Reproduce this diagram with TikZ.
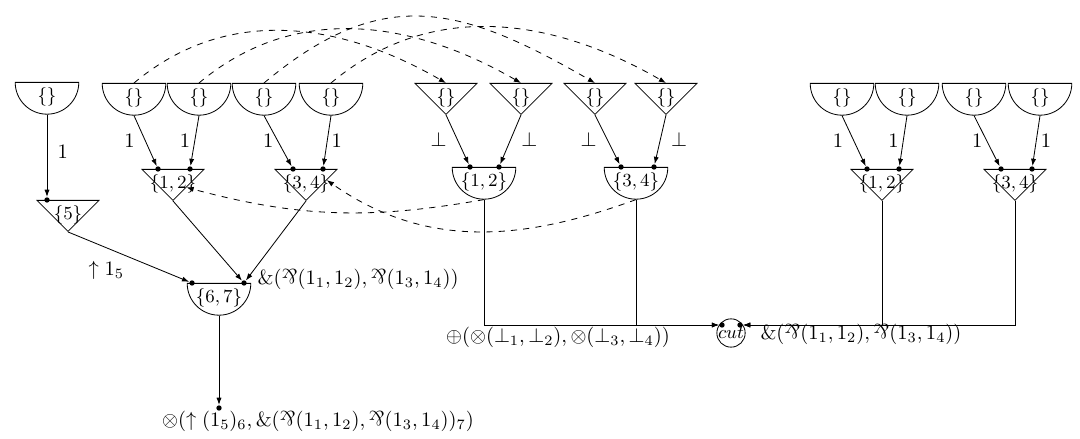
\documentclass[tikz,border=0pt]{standalone}
\usepackage{amsmath}
\usepackage{graphicx}
\usepackage{tikz}
\usetikzlibrary{shapes.geometric,arrows.meta,positioning,calc}
\newcommand{\tpar}{\mathord{\rotatebox[origin=c]{180}{$\&$}}}
\newcommand{\sh}[1]{\makebox[0pt]{$#1$}}

\begin{document}
\begin{tikzpicture}[x=0.4876pt,y=-0.4876pt,
  hc/.style={draw,semicircle,shape border rotate=180,anchor=chord center,minimum width=31pt,minimum height=15.5pt,inner sep=0pt,font=\small},
  tri/.style={draw,isosceles triangle,isosceles triangle apex angle=90,shape border rotate=-90,anchor=lower side,minimum size=15.1pt,inner sep=0pt,font=\small},
  cutc/.style={draw,circle,minimum size=10.7pt,inner sep=0pt,font=\small},
  dot/.style={circle,fill,inner sep=0pt,minimum size=2.6pt},
  arr/.style={-{Latex[length=3.5pt,width=2.5pt]}},
  darr/.style={arr,dashed},
  lab/.style={inner sep=2pt}]
\useasboundingbox (0,0) rectangle (1080,439);
% ---------- left: single unit ----------
\node[hc] (h0) at (47,82) {\sh{\{\}}};
\node[tri] (t5) at (68,200) {\sh{\{5\}}};
\node[dot] (d5) at (47,200) {};
\draw[arr] (h0.apex) -- node[lab,right=3pt,pos=0.45]{$1$} (d5);
% ---------- left group: units into two pars ----------
\node[hc] (h1) at (134,83) {\sh{\{\}}};
\node[hc] (h2) at (199,83) {\sh{\{\}}};
\node[hc] (h3) at (264,83) {\sh{\{\}}};
\node[hc] (h4) at (331,83) {\sh{\{\}}};
\node[tri] (t12) at (173,169) {\sh{\{1,2\}}};
\node[tri] (t34) at (306,169) {\sh{\{3,4\}}};
\node[dot] (d1) at (158,169) {};
\node[dot] (d2) at (190,169) {};
\node[dot] (d3) at (293,169) {};
\node[dot] (d4) at (323,169) {};
\draw[arr] (h1.apex) -- node[lab,left=3pt]{$1$} (d1);
\draw[arr] (h2.apex) -- node[lab,left]{$1$} (d2);
\draw[arr] (h3.apex) -- node[lab,left]{$1$} (d3);
\draw[arr] (h4.apex) -- node[lab,right]{$1$} (d4);
% ---------- with of the two pars ----------
\node[hc] (g67) at (219,283) {\sh{\{6,7\}}};
\node[dot] (f1) at (192,283) {};
\node[dot,label={[lab,xshift=3pt,yshift=2pt]right:$\&(\tpar(1_1,1_2),\tpar(1_3,1_4))$}] (f2) at (244,283) {};
\node[dot] (z) at (219,408) {};
\node[lab] (res) at (318,421) {$\otimes(\uparrow(1_5)_6,\&(\tpar(1_1,1_2),\tpar(1_3,1_4))_7)$};
\draw[arr] (t5.apex) -- node[lab,below left,pos=0.5]{$\uparrow 1_5$} (f1);
\draw[arr] (t12.apex) -- (f2);
\draw[arr] (t34.apex) -- (f2);
\draw[arr] (g67.apex) -- (z);
% ---------- middle: bottoms into two tensors ----------
\node[tri] (b1) at (446,83) {\sh{\{\}}};
\node[tri] (b2) at (521,83) {\sh{\{\}}};
\node[tri] (b3) at (595,83) {\sh{\{\}}};
\node[tri] (b4) at (666,83) {\sh{\{\}}};
\node[hc] (m12) at (484,167) {\sh{\{1,2\}}};
\node[hc] (m34) at (636,167) {\sh{\{3,4\}}};
\node[dot] (e1) at (470,167) {};
\node[dot] (e2) at (499,167) {};
\node[dot] (e3) at (621,167) {};
\node[dot] (e4) at (654,167) {};
\draw[arr] (b1.apex) -- node[lab,left=3pt]{$\bot$} (e1);
\draw[arr] (b2.apex) -- node[lab,right=3pt]{$\bot$} (e2);
\draw[arr] (b3.apex) -- node[lab,left=3pt]{$\bot$} (e3);
\draw[arr] (b4.apex) -- node[lab,right=3pt]{$\bot$} (e4);
% ---------- right group ----------
\node[hc] (h5) at (842,83) {\sh{\{\}}};
\node[hc] (h6) at (907,83) {\sh{\{\}}};
\node[hc] (h7) at (974,83) {\sh{\{\}}};
\node[hc] (h8) at (1040,83) {\sh{\{\}}};
\node[tri] (r12) at (882,169) {\sh{\{1,2\}}};
\node[tri] (r34) at (1015,169) {\sh{\{3,4\}}};
\node[dot] (k1) at (867,169) {};
\node[dot] (k2) at (899,169) {};
\node[dot] (k3) at (1001,169) {};
\node[dot] (k4) at (1032,169) {};
\draw[arr] (h5.apex) -- node[lab,left=3pt]{$1$} (k1);
\draw[arr] (h6.apex) -- node[lab,left]{$1$} (k2);
\draw[arr] (h7.apex) -- node[lab,left]{$1$} (k3);
\draw[arr] (h8.apex) -- node[lab,right]{$1$} (k4);
% ---------- cut ----------
\node[cutc] (cut) at (731,333) {$cut$};
\node[dot] (cl) at (722,325) {};
\node[dot] (cr) at (740,325) {};
\node[lab] (lhs) at (558,337) {$\oplus(\otimes(\bot_1,\bot_2),\otimes(\bot_3,\bot_4))$};
\node[lab,anchor=west] (rhs) at (756,334) {$\&(\tpar(1_1,1_2),\tpar(1_3,1_4))$};
\draw[arr] (m12.apex) |- (cl);
\draw[arr] (m34.apex) |- (cl);
\draw[arr] (r12.apex) |- (cr);
\draw[arr] (r34.apex) |- (cr);
% ---------- dashed links ----------
\draw[darr] (h1.chord center) to[out=40,in=150] (b1.lower side);
\draw[darr] (h2.chord center) to[out=40,in=150] (b2.lower side);
\draw[darr] (h3.chord center) to[out=40,in=150,looseness=1.2] (b3.lower side);
\draw[darr] (h4.chord center) to[out=40,in=150] (b4.lower side);
\draw[darr] (m12.apex) to[out=190,in=-15] (t12);
\draw[darr] (m34.apex) to[out=200,in=-35] (t34.10);
\end{tikzpicture}
\end{document}
